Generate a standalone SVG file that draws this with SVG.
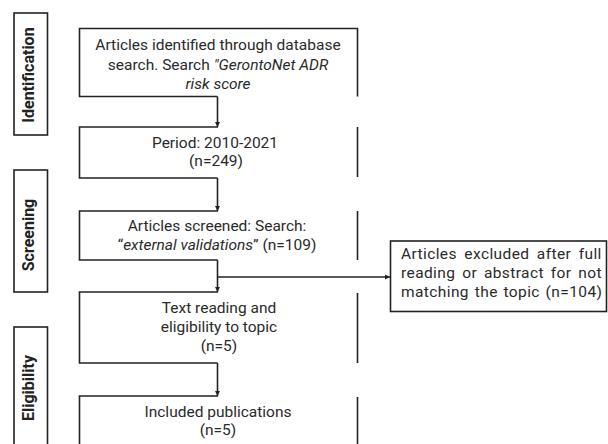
<svg xmlns="http://www.w3.org/2000/svg" width="608" height="444" viewBox="0 0 608 444">
<style>
.ln{fill:none;stroke:#222;stroke-width:1.6}
.t{font-family:Roboto,"Liberation Sans",sans-serif;font-size:15.5px;fill:#2a2a2a;text-anchor:middle}
.tl{font-family:Roboto,"Liberation Sans",sans-serif;font-size:15.5px;fill:#2a2a2a;letter-spacing:0.4px}
.it{font-style:italic}
.lab{font-family:Roboto,"Liberation Sans",sans-serif;font-size:16px;font-weight:bold;fill:#222;text-anchor:middle}
</style>
<defs>
<marker id="ah" viewBox="0 0 6 6" markerWidth="5" markerHeight="5" markerUnits="userSpaceOnUse" refX="6" refY="3" orient="auto">
<path d="M0,0 L6,3 L0,6 z" fill="#222"/>
</marker>
</defs>
<rect width="608" height="444" fill="#fff"/>
<g id="stage-identification">
<rect class="ln" x="14" y="13" width="33.5" height="122"/>
<text class="lab" transform="translate(34,75) rotate(-90)">Identification</text>
</g>
<g id="stage-screening">
<rect class="ln" x="14" y="170" width="33.5" height="122"/>
<text class="lab" transform="translate(34,235) rotate(-90)">Screening</text>
</g>
<g id="stage-eligibility">
<rect class="ln" x="14" y="327" width="33.5" height="130"/>
<text class="lab" transform="translate(34,388) rotate(-90)">Eligibility</text>
</g>
<g id="box-identified">
<path class="ln" d="M217.5,96.5 H79.5 V28.5 H357.5 V96.5"/>
<text class="t" x="218" y="50">Articles identified through database</text>
<text class="t" x="218" y="70">search. Search <tspan class="it">"GerontoNet ADR</tspan></text>
<text class="t it" x="218" y="89">risk score</text>
</g>
<g id="box-period">
<path class="ln" d="M217.5,178 H79.5 V127 H218"/>
<path class="ln" d="M357.5,127 V177"/>
<text class="t" x="215" y="148">Period: 2010-2021</text>
<text class="t" x="216" y="166">(n=249)</text>
</g>
<g id="box-screened">
<path class="ln" d="M217.5,260 H79.5 V211 H218"/>
<path class="ln" d="M357.5,211 V260"/>
<text class="t" x="217" y="231">Articles screened: Search:</text>
<text class="t" x="217" y="250">“<tspan class="it">external validations</tspan>” (n=109)</text>
</g>
<g id="box-eligibility">
<path class="ln" d="M217.5,363 H79.5 V292 H218"/>
<path class="ln" d="M357.5,293 V363"/>
<text class="t" x="219" y="313">Text reading and</text>
<text class="t" x="219" y="332">eligibility to topic</text>
<text class="t" x="219" y="351">(n=5)</text>
</g>
<g id="box-included">
<path class="ln" d="M79.5,446 V396 H218"/>
<path class="ln" d="M357.5,397 V446"/>
<text class="t" x="218" y="417">Included publications</text>
<text class="t" x="218" y="435">(n=5)</text>
</g>
<g id="box-excluded">
<rect class="ln" x="390.5" y="241" width="216" height="70.5"/>
<text class="tl" x="401" y="259" word-spacing="3.2">Articles excluded after full</text>
<text class="tl" x="401" y="278" word-spacing="2.6">reading or abstract for not</text>
<text class="tl" x="401" y="297" word-spacing="1.5">matching the topic (n=104)</text>
</g>
<g id="connectors">
<path class="ln" d="M217.5,96.5 V127" marker-end="url(#ah)"/>
<path class="ln" d="M217.5,178 V211" marker-end="url(#ah)"/>
<path class="ln" d="M217.5,260 V292" marker-end="url(#ah)"/>
<path class="ln" d="M217.5,363 V396" marker-end="url(#ah)"/>
<path class="ln" d="M217.5,277 H390" marker-end="url(#ah)"/>
</g>
</svg>
